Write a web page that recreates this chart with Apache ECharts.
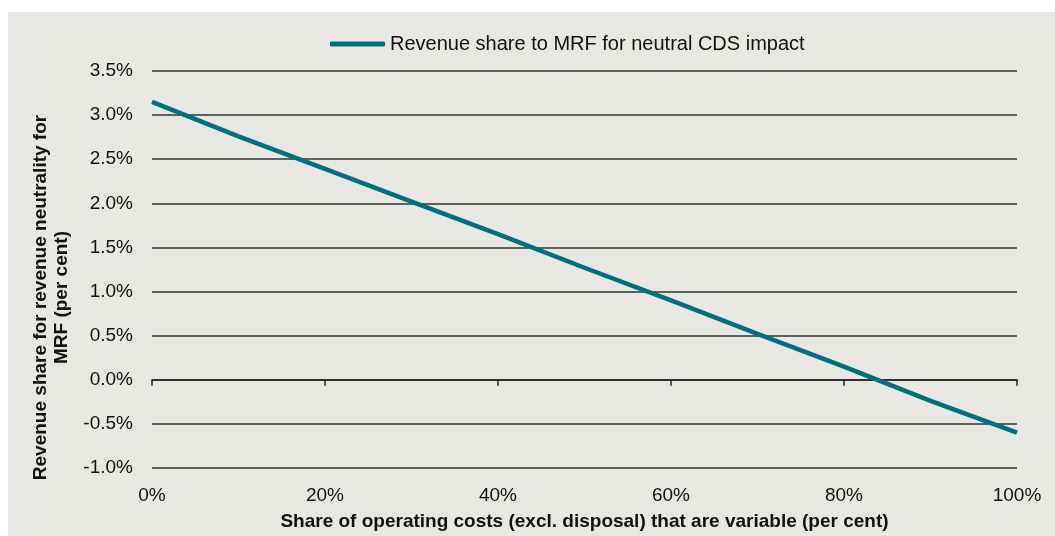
<!DOCTYPE html>
<html>
<head>
<meta charset="utf-8">
<script src="https://cdn.jsdelivr.net/npm/echarts@6/dist/echarts.min.js"></script>
<style>
  html, body { margin: 0; padding: 0; background: #fff; }
  #main { position: absolute; left: 8px; top: 12px; width: 1047px; height: 524px; }
</style>
</head>
<body>
<div id="main"></div>
<script>
// 可变成本占比 (%)
var variableShare = [0, 10, 20, 30, 40, 50, 60, 70, 80, 90, 100]
// MRF 收入分成 (%)
var revenueShare = [3.15, 2.76, 2.39, 2.02, 1.65, 1.27, 0.9, 0.52, 0.15, -0.24, -0.6]
var seriesName = 'Revenue share to MRF for neutral CDS impact'
var xTitle = 'Share of operating costs (excl. disposal) that are variable (per cent)'
var yTitle = 'Revenue share for revenue neutrality for\nMRF (per cent)'

var font = '"Liberation Sans", Arial, sans-serif'
var points = variableShare.map(function (x, i) { return [x, revenueShare[i]] })

var myChart = echarts.init(document.getElementById('main'))
myChart.setOption({
  backgroundColor: '#e8e7e4',
  textStyle: { fontFamily: font, color: '#111' },
  legend: {
    left: 317,
    top: 17,
    icon: 'roundRect',
    itemWidth: 55,
    itemHeight: 5,
    itemGap: 4,
    textStyle: { fontSize: 20, color: '#111', fontFamily: font },
    data: [seriesName]
  },
  grid: { left: 144, right: 38, top: 59, bottom: 60 },
  xAxis: [
    {
      type: 'value',
      min: 0,
      max: 100,
      interval: 20,
      position: 'bottom',
      axisLine: { show: false, onZero: false },
      axisTick: { show: false },
      splitLine: { show: false },
      axisLabel: { fontSize: 19, color: '#111', margin: 18, formatter: '{value}%' },
      name: xTitle,
      nameLocation: 'middle',
      nameGap: 44,
      nameTextStyle: { fontSize: 19, fontWeight: 'bold', color: '#111' }
    },
    {
      type: 'value',
      min: 0,
      max: 100,
      interval: 20,
      position: 'bottom',
      axisLine: { show: true, onZero: true, lineStyle: { color: '#222', width: 1.5 } },
      axisTick: { show: true, length: 6, lineStyle: { color: '#222', width: 1.5 } },
      axisLabel: { show: false },
      splitLine: { show: false }
    }
  ],
  yAxis: {
    type: 'value',
    min: -1,
    max: 3.5,
    interval: 0.5,
    axisLine: { show: false },
    axisTick: { show: false },
    axisLabel: {
      fontSize: 19,
      color: '#111',
      margin: 19,
      formatter: function (v) { return v.toFixed(1) + '%' }
    },
    splitLine: { lineStyle: { color: '#333', width: 1.5 } },
    name: yTitle,
    nameLocation: 'middle',
    nameGap: 74,
    nameTextStyle: { fontSize: 19, fontWeight: 'bold', color: '#111', lineHeight: 21, padding: [0, 56, 0, 0] }
  },
  series: [
    {
      name: seriesName,
      type: 'line',
      xAxisIndex: 0,
      data: points,
      showSymbol: false,
      symbol: 'none',
      lineStyle: { color: '#00707f', width: 4.5 },
      itemStyle: { color: '#00707f' }
    }
  ]
})
</script>
</body>
</html>
